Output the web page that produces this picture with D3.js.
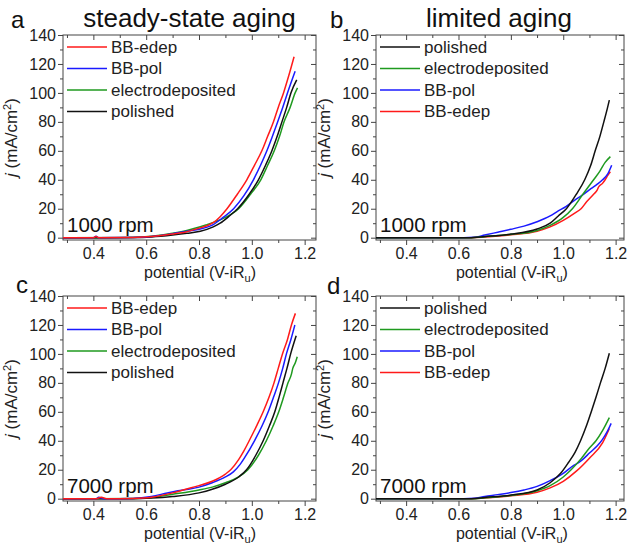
<!DOCTYPE html>
<html>
<head>
<meta charset="utf-8">
<script src="https://cdn.jsdelivr.net/npm/d3@7/dist/d3.min.js"></script>
<style>
  html, body { margin: 0; padding: 0; background: #fff; }
  svg { display: block; font-family: "Liberation Sans", Arial, sans-serif; }
</style>
</head>
<body>
<svg id="chart" width="627" height="545"></svg>
<script>
// ---------------- DATA ----------------
const xTicks = [0.4, 0.6, 0.8, 1.0, 1.2];
const yTicks = [0, 20, 40, 60, 80, 100, 120, 140];
const xTickLabels = ["0.4", "0.6", "0.8", "1.0", "1.2"];
const yTickLabels = ["0", "20", "40", "60", "80", "100", "120", "140"];

const panelTitles = ["steady-state aging", "limited aging"];
const panelLetters = ["a", "b", "c", "d"];
const rpmLabels = ["1000 rpm", "1000 rpm", "7000 rpm", "7000 rpm"];

const legendSteady = ["BB-edep", "BB-pol", "electrodeposited", "polished"];
const legendLimited = ["polished", "electrodeposited", "BB-pol", "BB-edep"];

// panel a: steady-state aging, 1000 rpm  [potential, j]
const a_BBedep = [[0.285,0],[0.40,0],[0.41,0.8],[0.42,0],[0.55,0.2],[0.62,0.8],[0.70,2.5],[0.75,4],[0.80,6.5],[0.83,8.2],[0.855,10.5],[0.88,14.5],[0.906,20],[0.945,30],[0.981,40],[1.01,50],[1.038,60],[1.06,70],[1.082,80],[1.10,90],[1.12,100],[1.14,112],[1.16,125]];
const a_BBpol = [[0.285,0],[0.40,0],[0.41,1],[0.42,0],[0.55,0.2],[0.62,0.9],[0.70,2.8],[0.754,4.5],[0.805,6],[0.854,9],[0.89,13.8],[0.931,20],[0.97,29],[1.006,40],[1.033,50],[1.057,60],[1.078,70],[1.098,80],[1.117,90],[1.135,100],[1.164,115]];
const a_edep = [[0.285,-0.3],[0.55,0.2],[0.62,1],[0.70,3],[0.754,5],[0.805,7.5],[0.83,9],[0.854,10.5],[0.90,14],[0.95,20],[0.995,30],[1.034,40],[1.06,50],[1.085,60],[1.105,70],[1.122,80],[1.145,90],[1.164,100],[1.173,103.5]];
const a_polished = [[0.285,0],[0.55,0.1],[0.62,0.5],[0.70,1.8],[0.754,3],[0.805,4.5],[0.854,7.5],[0.88,10],[0.915,15],[0.946,20],[0.99,30],[1.025,40],[1.052,50],[1.076,60],[1.096,70],[1.114,80],[1.132,90],[1.148,100],[1.17,109]];

// panel b: limited aging, 1000 rpm
const b_polished = [[0.285,0],[0.64,0],[0.70,0.8],[0.80,2.5],[0.90,6],[0.95,10],[0.981,15],[1.012,20],[1.05,30],[1.082,40],[1.105,50],[1.122,60],[1.14,70],[1.155,80],[1.168,89],[1.176,95]];
const b_edep = [[0.285,0],[0.65,0],[0.70,0.7],[0.80,2.2],[0.90,5],[0.95,8.5],[1.0,14],[1.035,20],[1.075,30],[1.116,40],[1.14,46],[1.16,52],[1.18,56]];
const b_BBpol = [[0.285,0],[0.62,0],[0.66,0.3],[0.70,1.8],[0.75,3.8],[0.80,5.8],[0.85,8],[0.90,11],[0.95,15],[0.981,18.5],[1.01,21.5],[1.044,26],[1.07,29],[1.107,34],[1.13,37],[1.15,40],[1.17,44],[1.185,50]];
const b_BBedep = [[0.285,0],[0.65,0],[0.70,0.5],[0.80,2],[0.90,4.5],[0.95,7.5],[1.0,12],[1.044,17],[1.068,20],[1.09,25],[1.116,30],[1.13,33],[1.135,35],[1.15,37.5],[1.16,40],[1.17,43],[1.18,45.5]];

// panel c: steady-state aging, 7000 rpm
const c_BBedep = [[0.285,0],[0.41,0],[0.43,1],[0.45,0],[0.55,0.2],[0.62,1],[0.70,4],[0.75,6.5],[0.80,9],[0.85,12],[0.90,17],[0.92,20],[0.95,27],[0.97,33],[0.99,40],[1.02,51],[1.043,60],[1.065,70],[1.084,80],[1.10,90],[1.116,100],[1.135,110],[1.15,120],[1.165,128]];
const c_BBpol = [[0.285,0],[0.41,0],[0.42,1],[0.44,0],[0.55,0.2],[0.62,1.5],[0.68,4],[0.72,5.5],[0.76,6.5],[0.80,8],[0.85,11],[0.90,15],[0.93,18.5],[0.955,23.5],[0.975,29],[1.01,40],[1.038,50],[1.062,60],[1.082,70],[1.101,80],[1.117,90],[1.131,100],[1.148,110],[1.163,120]];
const c_edep = [[0.285,-0.3],[0.55,0.1],[0.62,0.8],[0.70,3],[0.80,6],[0.85,8],[0.90,11],[0.95,15],[0.985,20],[1.025,30],[1.055,40],[1.08,50],[1.102,60],[1.12,70],[1.137,80],[1.15,86],[1.155,90],[1.165,94],[1.172,98]];
const c_polished = [[0.285,0],[0.55,0],[0.62,0.4],[0.70,1.5],[0.80,4],[0.85,6.5],[0.90,10],[0.95,15],[0.98,20],[1.015,30],[1.043,40],[1.066,50],[1.087,60],[1.103,70],[1.118,80],[1.133,90],[1.147,100],[1.168,112.5]];

// panel d: limited aging, 7000 rpm
const d_polished = [[0.285,0],[0.65,0],[0.70,0.8],[0.80,2.5],[0.90,6],[0.95,11],[0.99,17.5],[1.02,25],[1.045,32],[1.066,40],[1.09,51],[1.107,60],[1.125,70],[1.142,80],[1.16,90],[1.176,100.5]];
const d_edep = [[0.285,0],[0.65,0],[0.70,0.6],[0.80,2.2],[0.90,5.5],[0.95,9],[1.0,15],[1.03,20],[1.07,28],[1.1,35],[1.125,40],[1.15,47],[1.176,56]];
const d_BBpol = [[0.285,0],[0.62,0],[0.66,0.3],[0.70,1.5],[0.75,2.8],[0.80,4.2],[0.85,6],[0.90,8.5],[0.95,12.5],[1.0,17.5],[1.04,23],[1.06,25],[1.08,28],[1.1,31.5],[1.13,36.5],[1.15,41],[1.17,47],[1.183,52]];
const d_BBedep = [[0.285,0],[0.65,0],[0.70,0.5],[0.80,2],[0.90,4.5],[0.95,7.5],[1.0,12],[1.05,19],[1.1,28],[1.15,38.5],[1.176,48.5]];

// ---------------- STYLE / LAYOUT ----------------
const colorOf = {
  "BB-edep": "#ff1a1a",
  "BB-pol": "#1a1aff",
  "electrodeposited": "#1f9a1f",
  "polished": "#111111"
};
const FONT = '"Liberation Sans", Arial, sans-serif';

const panels = [
  { letter: panelLetters[0], rpm: rpmLabels[0], title: panelTitles[0], legend: legendSteady,
    series: { "BB-edep": a_BBedep, "BB-pol": a_BBpol, "electrodeposited": a_edep, "polished": a_polished },
    left: 63, right: 316, top: 35, bottom: 240, xMax: 1.243, letterX: 11, letterY: 28 },
  { letter: panelLetters[1], rpm: rpmLabels[1], title: panelTitles[1], legend: legendLimited,
    series: { "polished": b_polished, "electrodeposited": b_edep, "BB-pol": b_BBpol, "BB-edep": b_BBedep },
    left: 376, right: 624, top: 35, bottom: 240, xMax: 1.232, letterX: 330, letterY: 28 },
  { letter: panelLetters[2], rpm: rpmLabels[2], title: null, legend: legendSteady,
    series: { "BB-edep": c_BBedep, "BB-pol": c_BBpol, "electrodeposited": c_edep, "polished": c_polished },
    left: 63, right: 316, top: 296, bottom: 501, xMax: 1.243, letterX: 16, letterY: 293 },
  { letter: panelLetters[3], rpm: rpmLabels[3], title: null, legend: legendLimited,
    series: { "polished": d_polished, "electrodeposited": d_edep, "BB-pol": d_BBpol, "BB-edep": d_BBedep },
    left: 376, right: 624, top: 296, bottom: 501, xMax: 1.232, letterX: 327, letterY: 294 }
];

const svg = d3.select("#chart");

panels.forEach((p, i) => {
  const x = d3.scaleLinear().domain([0.285, p.xMax]).range([p.left, p.right]);
  const y = d3.scaleLinear().domain([-1.6, 140]).range([p.bottom, p.top]);
  const g = svg.append("g");
  const w = p.right - p.left, h = p.bottom - p.top;

  const clipId = "clip" + i;
  svg.append("clipPath").attr("id", clipId).append("rect")
    .attr("x", p.left).attr("y", p.top).attr("width", w).attr("height", h);

  const xMinor = d3.range(0.3, 1.25, 0.1).map(v => +v.toFixed(2)).filter(v => !xTicks.some(t => Math.abs(t - v) < 1e-6));
  const yMinor = d3.range(10, 140, 20);

  // bottom axis
  const bottomAxis = d3.axisBottom(x).tickValues(xTicks).tickFormat((d, k) => xTickLabels[k]).tickSize(5).tickPadding(3);
  g.append("g").attr("transform", `translate(0,${p.bottom})`).call(bottomAxis);
  g.append("g").attr("transform", `translate(0,${p.bottom})`)
    .call(d3.axisBottom(x).tickValues(xMinor).tickFormat("").tickSize(3));
  // left axis
  const leftAxis = d3.axisLeft(y).tickValues(yTicks).tickFormat((d, k) => yTickLabels[k]).tickSize(5).tickPadding(2);
  g.append("g").attr("transform", `translate(${p.left},0)`).call(leftAxis);
  g.append("g").attr("transform", `translate(${p.left},0)`)
    .call(d3.axisLeft(y).tickValues(yMinor).tickFormat("").tickSize(3));
  // top axis (inward ticks)
  g.append("g").attr("transform", `translate(0,${p.top})`)
    .call(d3.axisBottom(x).tickValues(xTicks).tickFormat("").tickSize(5));
  g.append("g").attr("transform", `translate(0,${p.top})`)
    .call(d3.axisBottom(x).tickValues(xMinor).tickFormat("").tickSize(3));
  // right axis (inward ticks)
  g.append("g").attr("transform", `translate(${p.right},0)`)
    .call(d3.axisLeft(y).tickValues(yTicks).tickFormat("").tickSize(5));
  g.append("g").attr("transform", `translate(${p.right},0)`)
    .call(d3.axisLeft(y).tickValues(yMinor).tickFormat("").tickSize(3));

  g.selectAll(".domain").remove();
  g.selectAll(".tick line").attr("stroke", "#444").attr("stroke-width", 1);
  g.selectAll(".tick text").attr("font-family", FONT).attr("font-size", 16).attr("fill", "#222");

  // frame
  g.append("rect").attr("x", p.left).attr("y", p.top).attr("width", w).attr("height", h)
    .attr("fill", "none").attr("stroke", "#444").attr("stroke-width", 1);

  // curves
  const line = d3.line().x(d => x(d[0])).y(d => y(d[1])).curve(d3.curveMonotoneX);
  const drawOrder = (p.legend === legendSteady) ? ["electrodeposited", "polished", "BB-pol", "BB-edep"] : ["BB-edep", "BB-pol", "electrodeposited", "polished"];
  const cg = g.append("g").attr("clip-path", `url(#${clipId})`);
  drawOrder.forEach(name => {
    cg.append("path").datum(p.series[name]).attr("d", line)
      .attr("fill", "none").attr("stroke", colorOf[name]).attr("stroke-width", 1.5)
      .attr("stroke-linejoin", "round");
  });

  // legend
  p.legend.forEach((name, k) => {
    const ly = p.top + 12 + k * 21.5;
    g.append("line").attr("x1", p.left + 4).attr("x2", p.left + 44).attr("y1", ly).attr("y2", ly)
      .attr("stroke", colorOf[name]).attr("stroke-width", 1.5);
    g.append("text").attr("x", p.left + 48).attr("y", ly).attr("dy", "0.35em")
      .attr("font-family", FONT).attr("font-size", 17).attr("fill", "#222").text(name);
  });

  // rpm label
  g.append("text").attr("x", p.left + 4).attr("y", p.bottom - 8)
    .attr("font-family", FONT).attr("font-size", 20.5).attr("fill", "#111").text(p.rpm);

  // panel letter
  g.append("text").attr("x", p.letterX).attr("y", p.letterY)
    .attr("font-family", FONT).attr("font-size", 24).attr("fill", "#111").text(p.letter);

  // title
  if (p.title) {
    g.append("text").attr("x", (p.left + p.right) / 2 + (i === 0 ? 0 : -1)).attr("y", 27)
      .attr("text-anchor", "middle").attr("font-family", FONT).attr("font-size", 26).attr("fill", "#111").text(p.title);
  }

  // x axis title
  const xt = g.append("text").attr("x", x(0.8) + 1).attr("y", p.bottom + 38)
    .attr("text-anchor", "middle").attr("font-family", FONT).attr("font-size", 16).attr("fill", "#222");
  xt.append("tspan").text("potential (V-iR");
  xt.append("tspan").attr("dy", 4).attr("font-size", 11).text("u");
  xt.append("tspan").attr("dy", -4).text(")");

  // y axis title
  const ytx = p.left - 46, yty = (p.top + p.bottom) / 2;
  const yt = g.append("text").attr("transform", `translate(${ytx},${yty}) rotate(-90)`)
    .attr("text-anchor", "middle").attr("font-family", FONT).attr("font-size", 17).attr("fill", "#222");
  yt.append("tspan").attr("font-style", "italic").text("j");
  yt.append("tspan").text(" (mA/cm");
  yt.append("tspan").attr("dy", -6).attr("font-size", 11).text("2");
  yt.append("tspan").attr("dy", 6).text(")");
});
</script>
</body>
</html>
